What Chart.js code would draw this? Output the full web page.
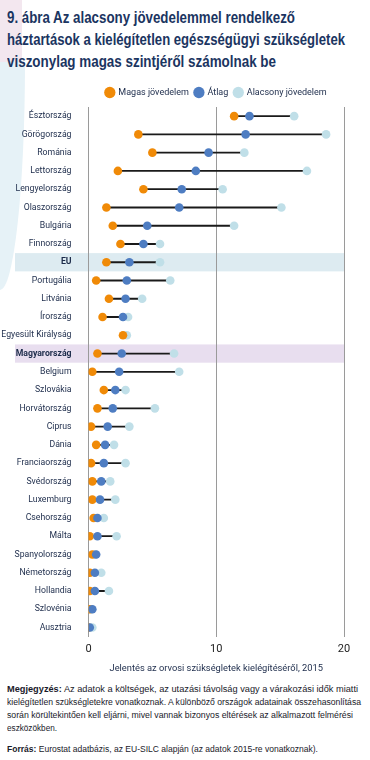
<!DOCTYPE html>
<html>
<head>
<meta charset="utf-8">
<script src="https://cdn.jsdelivr.net/npm/chart.js@4.4.1/dist/chart.umd.min.js"></script>
<style>
  html, body { margin: 0; padding: 0; background: #fff; }
  body { width: 370px; height: 760px; position: relative; overflow: hidden; font-family: "Liberation Sans", Arial, sans-serif; color: #1c2b4a; }
  .deco-pink { position: absolute; left: 0; top: 0; width: 22px; height: 62px; background: #f3e7ef; }
  .deco-blue { position: absolute; left: 0; top: 62px; width: 25px; height: 228px; background: #e6f2f7; border-bottom-right-radius: 25px 228px; }
  .fit { display: block; white-space: nowrap; width: max-content; transform-origin: 0 0; }
  h1 { position: absolute; left: 7px; top: 7px; margin: 0; font-size: 16px; line-height: 22px; font-weight: bold; color: #1b3561; }
  #wrap { position: absolute; left: 0; top: 80px; width: 370px; height: 598px; }
  .notes { position: absolute; left: 7px; top: 682px; font-size: 9.6px; line-height: 13px; color: #1a1a2a; }
  .notes .src { margin-top: 8px; }
</style>
</head>
<body>
<div class="deco-pink"></div>
<div class="deco-blue"></div>
<h1>
  <span class="fit" data-w="288">9. ábra Az alacsony jövedelemmel rendelkező</span>
  <span class="fit" data-w="338">háztartások a kielégítetlen egészségügyi szükségletek</span>
  <span class="fit" data-w="269">viszonylag magas szintjéről számolnak be</span>
</h1>
<div id="wrap"><canvas id="myChart"></canvas></div>
<div class="notes">
  <span class="fit" data-w="351"><b>Megjegyzés:</b> Az adatok a költségek, az utazási távolság vagy a várakozási idők miatti</span>
  <span class="fit" data-w="354">kielégítetlen szükségletekre vonatkoznak. A különböző országok adatainak összehasonlítása</span>
  <span class="fit" data-w="346">során körültekintően kell eljárni, mivel vannak bizonyos eltérések az alkalmazott felmérési</span>
  <span class="fit" data-w="50">eszközökben.</span>
  <span class="fit src" data-w="311"><b>Forrás:</b> Eurostat adatbázis, az EU-SILC alapján (az adatok 2015-re vonatkoznak).</span>
</div>
<script>
const countries = ['Észtország', 'Görögország', 'Románia', 'Lettország', 'Lengyelország', 'Olaszország', 'Bulgária', 'Finnország', 'EU', 'Portugália', 'Litvánia', 'Írország', 'Egyesült Királyság', 'Magyarország', 'Belgium', 'Szlovákia', 'Horvátország', 'Ciprus', 'Dánia', 'Franciaország', 'Svédország', 'Luxemburg', 'Csehország', 'Málta', 'Spanyolország', 'Németország', 'Hollandia', 'Szlovénia', 'Ausztria'];
const highIncome = [11.4, 3.9, 5.0, 2.3, 4.3, 1.4, 1.9, 2.5, 1.4, 0.6, 1.6, 1.1, 2.7, 0.7, 0.3, 1.2, 0.7, 0.2, 0.6, 0.2, 0.3, 0.3, 0.4, 0.1, 0.3, 0.1, 0.1, 0.1, 0.0];
const average = [12.6, 12.3, 9.4, 8.4, 7.3, 7.1, 4.6, 4.3, 3.2, 3.0, 2.9, 2.7, null, 2.6, 2.4, 2.1, 1.9, 1.5, 1.3, 1.2, 1.0, 0.9, 0.7, 0.7, 0.6, 0.5, 0.5, 0.3, 0.1];
const lowIncome = [16.1, 18.6, 12.2, 17.1, 10.5, 15.1, 11.4, 5.6, 5.6, 6.4, 4.2, 3.1, 3.0, 6.7, 7.1, 2.9, 5.2, 3.2, 2.0, 2.9, 1.7, 2.1, 1.2, 2.2, 0.5, 1.0, 1.6, 0.2, 0.3];
const legendOrder = ['Magas jövedelem', 'Átlag', 'Alacsony jövedelem'];
const highlighted = { 'EU': '#ddebf1', 'Magyarország': '#e8deef' };

// squeeze each text line to the width of the condensed original font
document.querySelectorAll('.fit').forEach(el => {
  const w = el.getBoundingClientRect().width;
  el.style.transform = 'scaleX(' + (el.dataset.w / w) + ')';
});

// min-max range per country, for the connecting line
const ranges = countries.map((c, i) => {
  const vals = [highIncome[i], average[i], lowIncome[i]].filter(v => v !== null);
  return [Math.min(...vals), Math.max(...vals)];
});

const rowBands = {
  id: 'rowBands',
  beforeDraw(chart) {
    const { ctx, chartArea, scales } = chart;
    const y = scales.y;
    const step = y.getPixelForValue(1) - y.getPixelForValue(0);
    ctx.save();
    countries.forEach((c, i) => {
      if (!highlighted[c]) return;
      const py = y.getPixelForValue(i);
      ctx.fillStyle = highlighted[c];
      ctx.fillRect(15, py - step / 2, chartArea.right - 15, step);
    });
    ctx.restore();
  }
};

const fontFamily = 'Roboto, "Liberation Sans", sans-serif';

new Chart(document.getElementById('myChart'), {
  type: 'bar',
  data: {
    labels: countries,
    datasets: [
      { type: 'bar', label: 'range', data: ranges, backgroundColor: '#1a1a1a', barThickness: 1.2, order: 4 },
      { type: 'line', label: 'Alacsony jövedelem', data: lowIncome, showLine: false, pointRadius: 4.3, pointBackgroundColor: '#c0dfe8', backgroundColor: '#c0dfe8', pointBorderWidth: 0, borderColor: '#c0dfe8', order: 3 },
      { type: 'line', label: 'Magas jövedelem', data: highIncome, showLine: false, pointRadius: 4.3, pointBackgroundColor: '#f08a07', backgroundColor: '#f08a07', pointBorderWidth: 0, borderColor: '#f08a07', order: 2 },
      { type: 'line', label: 'Átlag', data: average, showLine: false, pointRadius: 4.3, pointBackgroundColor: '#4e7dc2', backgroundColor: '#4e7dc2', pointBorderWidth: 0, borderColor: '#4e7dc2', order: 1 }
    ]
  },
  options: {
    indexAxis: 'y',
    responsive: true,
    maintainAspectRatio: false,
    animation: false,
    layout: { padding: { left: 0, right: 26, top: 2, bottom: 0 } },
    plugins: {
      tooltip: { enabled: false },
      legend: {
        position: 'top',
        fullSize: false,
        labels: {
          filter: (item) => item.text !== 'range',
          sort: (a, b) => legendOrder.indexOf(a.text) - legendOrder.indexOf(b.text),
          usePointStyle: true,
          pointStyle: 'circle',
          boxWidth: 8,
          boxHeight: 8,
          padding: 6,
          color: '#1c2b4a',
          font: { family: fontFamily, size: 9 }
        }
      }
    },
    scales: {
      x: {
        min: 0,
        max: 20,
        ticks: { stepSize: 10, padding: 6, color: '#222', font: { family: fontFamily, size: 11 } },
        grid: { color: '#9a9a9a', lineWidth: 1, drawTicks: false },
        border: { display: false },
        title: { display: true, text: 'Jelentés az orvosi szükségletek kielégítéséről, 2015', color: '#1c2b4a', font: { family: fontFamily, size: 9.3 }, padding: { top: 1 } }
      },
      y: {
        afterFit(scale) { scale.width = 88.5; },
        grid: { display: false },
        border: { display: false },
        ticks: {
          padding: 9,
          autoSkip: false,
          color: '#1c2b4a',
          font: (ctx) => ({ family: fontFamily, size: 8.7, weight: highlighted[countries[ctx.index]] ? 'bold' : 'normal' })
        }
      }
    }
  },
  plugins: [rowBands]
});
</script>
</body>
</html>
